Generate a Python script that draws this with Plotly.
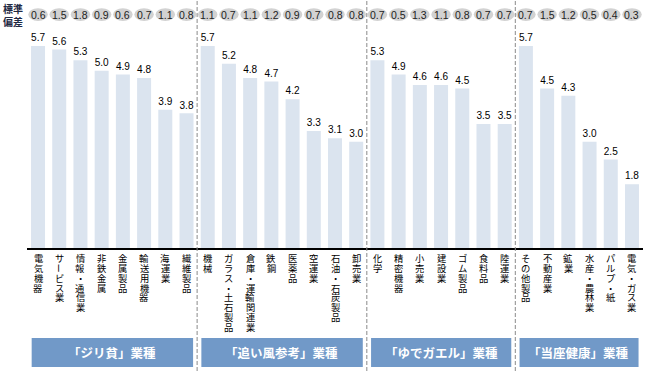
import plotly.graph_objects as go

# ---- data ----
categories = [
    "電気機器", "サービス業", "情報・通信業", "非鉄金属", "金属製品", "輸送用機器", "海運業", "繊維製品",
    "機械", "ガラス・土石製品", "倉庫・運輸関連業", "鉄鋼", "医薬品", "空運業", "石油・石炭製品", "卸売業",
    "化学", "精密機器", "小売業", "建設業", "ゴム製品", "食料品", "陸運業",
    "その他製品", "不動産業", "鉱業", "水産・農林業", "パルプ・紙", "電気・ガス業",
]
values = [5.7, 5.6, 5.3, 5.0, 4.9, 4.8, 3.9, 3.8,
          5.7, 5.2, 4.8, 4.7, 4.2, 3.3, 3.1, 3.0,
          5.3, 4.9, 4.6, 4.6, 4.5, 3.5, 3.5,
          5.7, 4.5, 4.3, 3.0, 2.5, 1.8]
std_dev = [0.6, 1.5, 1.8, 0.9, 0.6, 0.7, 1.1, 0.8,
           1.1, 0.7, 1.1, 1.2, 0.9, 0.7, 0.8, 0.8,
           0.7, 0.5, 1.3, 1.1, 0.8, 0.7, 0.7,
           0.7, 1.5, 1.2, 0.5, 0.4, 0.3]
group_names = ["「ジリ貧」業種", "「追い風参考」業種", "「ゆでガエル」業種", "「当座健康」業種"]
group_sizes = [8, 8, 7, 6]
std_label = "標準<br>偏差"

# ---- layout constants ----
W, H = 646, 371
ML, MR, MT = 27, 3, 0
PLOT_H = 248
MB = H - PLOT_H - MT
JP = "Noto Sans CJK JP"
LAT = "Liberation Sans, Arial"


def py(pix):
    """pixel y (from top) -> paper y"""
    return (PLOT_H - pix) / PLOT_H


x = list(range(len(categories)))

fig = go.Figure()
fig.add_trace(go.Bar(
    x=x, y=values, width=0.66,
    marker=dict(color="#dbe4ef", line=dict(width=0)),
    text=[f"{v:.1f}" for v in values], textposition="outside",
    textfont=dict(family=LAT, size=11, color="#000"),
    cliponaxis=False, hoverinfo="skip",
))

shapes = []
annotations = []

# std-dev ellipses
for i, s in enumerate(std_dev):
    shapes.append(dict(type="circle", xref="x", yref="y",
                       x0=i - 0.46, x1=i + 0.46, y0=6.41, y1=6.77,
                       fillcolor="#d2d2d2", line=dict(width=0), layer="below"))
    annotations.append(dict(x=i, y=6.59, xref="x", yref="y", text=f"{s:.1f}",
                            showarrow=False, xanchor="center", yanchor="middle",
                            font=dict(family=LAT, size=10.5, color="#222")))

annotations.append(dict(x=(13 - ML) / (W - ML - MR), y=py(15), xref="paper", yref="paper",
                        text=f"<b>{std_label}</b>", showarrow=False,
                        xanchor="center", yanchor="middle",
                        font=dict(family=JP, size=10, color="#1f2a44")))

# vertical stacked category labels
for i, cat in enumerate(categories):
    for j, ch in enumerate(cat):
        annotations.append(dict(
            x=i, y=py(257.8 + j * 9.9), xref="x", yref="paper", text=ch,
            showarrow=False, xanchor="center", yanchor="middle",
            textangle=90 if ch == "ー" else 0,
            font=dict(family=JP, size=9.3, color="#000")))

# group separators and boxes
start = 0
for g, (name, n) in enumerate(zip(group_names, group_sizes)):
    first, last = start, start + n - 1
    shapes.append(dict(type="rect", xref="x", yref="paper",
                       x0=first - 0.3, x1=last + 0.31, y0=py(367), y1=py(338),
                       fillcolor="#7199c8", line=dict(width=0)))
    annotations.append(dict(x=(first + last) / 2, y=py(352.5), xref="x", yref="paper",
                            text=f"<b>{name}</b>", showarrow=False,
                            xanchor="center", yanchor="middle",
                            font=dict(family=JP, size=12.5, color="white")))
    if g < len(group_sizes) - 1:
        shapes.append(dict(type="line", xref="x", yref="paper",
                           x0=last + 0.5, x1=last + 0.5, y0=py(H), y1=py(0),
                           line=dict(color="#8a8a8a", width=1, dash="4px,2px")))
    start += n

fig.update_layout(
    width=W, height=H,
    margin=dict(l=ML, r=MR, t=MT, b=MB, pad=0),
    paper_bgcolor="white", plot_bgcolor="white",
    showlegend=False, bargap=0.34,
    shapes=shapes, annotations=annotations,
    xaxis=dict(range=[-0.52, 28.52], showticklabels=False, ticks="",
               showgrid=False, zeroline=False, showline=True,
               linecolor="#000", linewidth=1.5, fixedrange=True),
    yaxis=dict(range=[0, 7], visible=False, fixedrange=True),
)

fig.write_html("out.html", config={"displayModeBar": False},
               post_script="document.body.style.margin='0';document.body.style.padding='0';")
